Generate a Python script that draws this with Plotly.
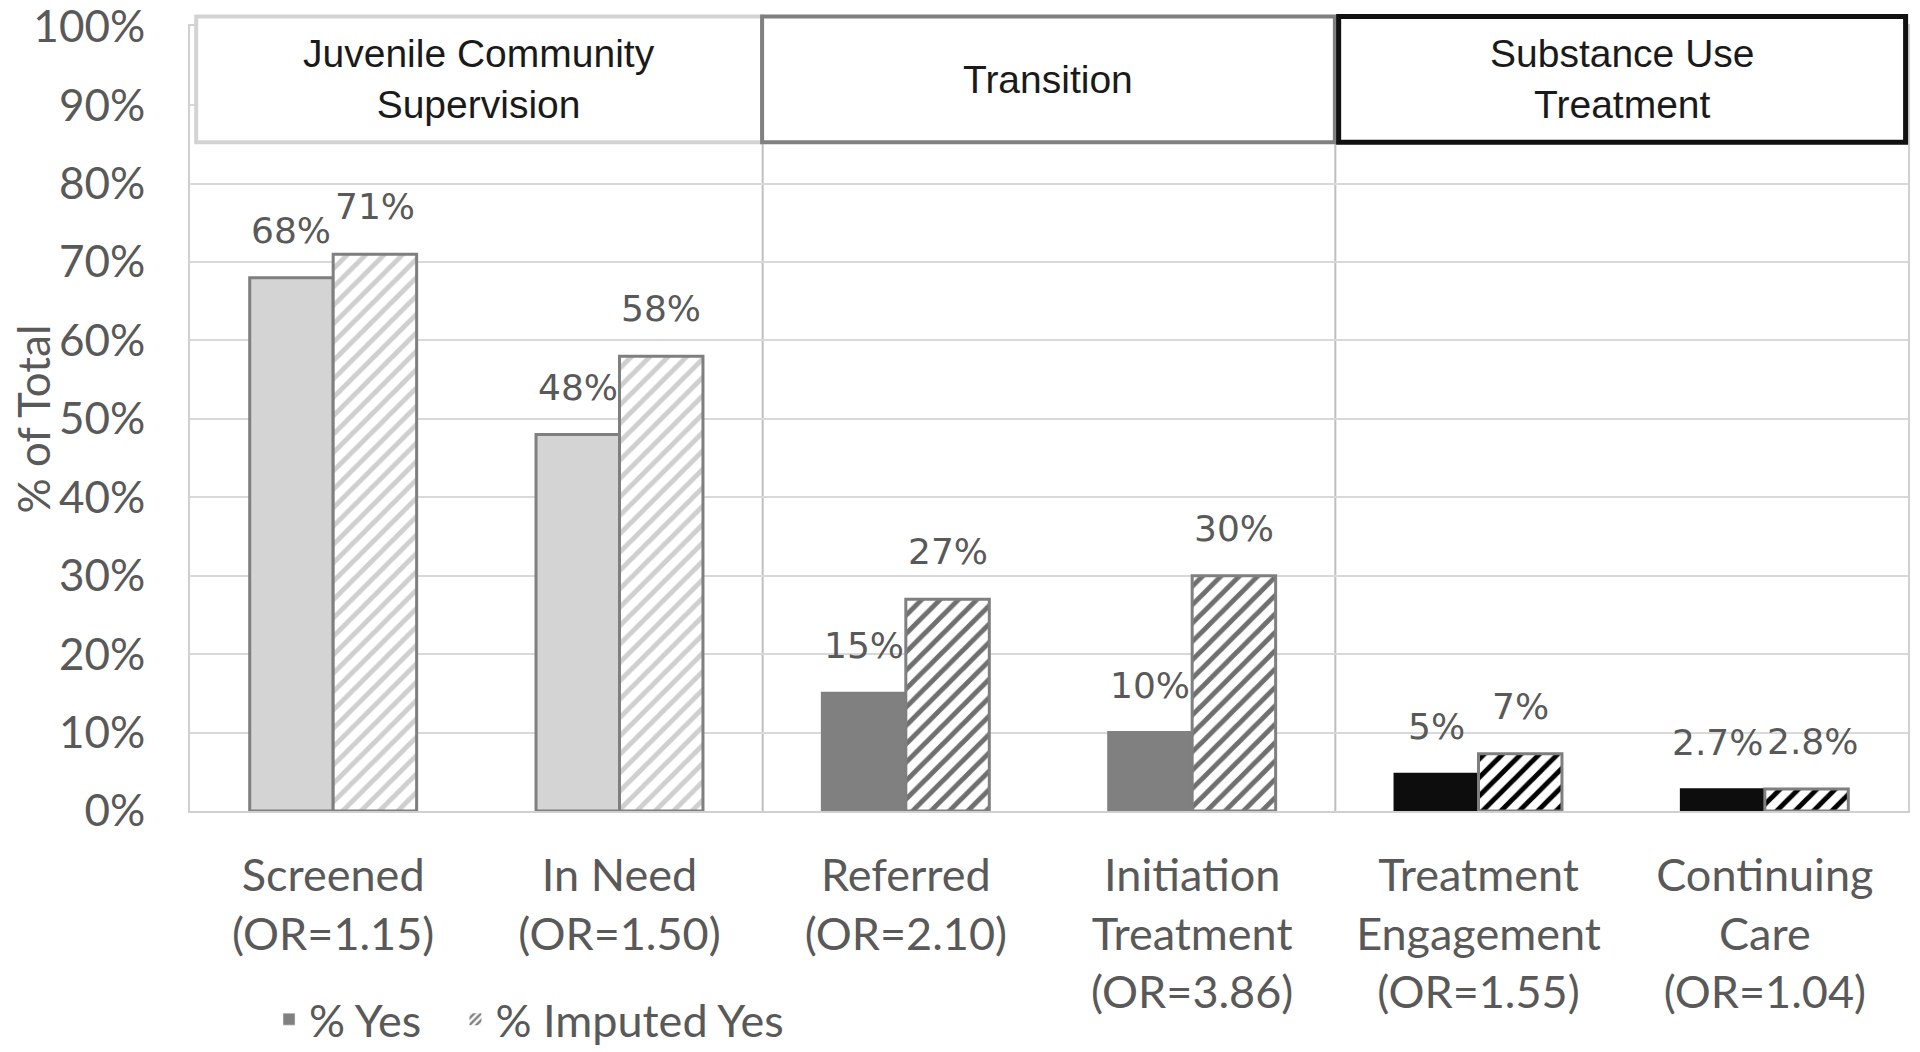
import plotly.graph_objects as go

categories = ["Screened<br>(OR=1.15)", "In Need<br>(OR=1.50)", "Referred<br>(OR=2.10)",
              "Initiation<br>Treatment<br>(OR=3.86)", "Treatment<br>Engagement<br>(OR=1.55)",
              "Continuing<br>Care<br>(OR=1.04)"]
pct_yes = [68, 48, 15, 10, 4.7, 2.7]
pct_imputed = [71, 58, 27, 30, 7.3, 2.8]
label_yes = ["68%", "48%", "15%", "10%", "5%", "2.7%"]
label_imputed = ["71%", "58%", "27%", "30%", "7%", "2.8%"]
y_ticks = [0, 10, 20, 30, 40, 50, 60, 70, 80, 90, 100]
y_tick_text = [f"{v}%" for v in y_ticks]
groups = ["Juvenile Community<br>Supervision", "Transition", "Substance Use<br>Treatment"]

yes_fill = ["#d4d4d4", "#d4d4d4", "#808080", "#808080", "#0d0d0d", "#0d0d0d"]
yes_line = ["#7f7f7f", "#7f7f7f", "#808080", "#808080", "#0d0d0d", "#0d0d0d"]
imp_fg = ["#cfcfcf", "#cfcfcf", "#6f6f6f", "#6f6f6f", "#000000", "#000000"]

LBL = "#595959"
TICKFONT = "Lato"
BARGAP = 0.417

fig = go.Figure()
fig.add_trace(go.Bar(
    x=categories, y=[v / 100 for v in pct_yes], name="% Yes", showlegend=False, offsetgroup="a",
    marker=dict(color=yes_fill, line=dict(color=yes_line, width=3)),
))
fig.add_trace(go.Bar(
    x=categories, y=[v / 100 for v in pct_imputed], name="% Imputed Yes", showlegend=False,
    offsetgroup="b",
    marker=dict(color="white", line=dict(color="#7f7f7f", width=3),
                pattern=dict(shape="/", fgcolor=imp_fg, bgcolor="white", size=13, solidity=0.38,
                             fillmode="replace")),
))
# legend-only entries (two separate legends so they can be spaced like the original)
fig.add_trace(go.Bar(x=[categories[0]], y=[None], name="% Yes", offsetgroup="a", legend="legend",
                     marker=dict(color="#808080")))
fig.add_trace(go.Bar(x=[categories[0]], y=[None], name="% Imputed Yes", offsetgroup="b",
                     legend="legend2",
                     marker=dict(color="white", line=dict(color="white", width=0),
                                 pattern=dict(shape="/", fgcolor="#000000", bgcolor="white",
                                              size=6, solidity=0.5))))

half = (1 - BARGAP) / 4  # half of a single bar width in category units
# small horizontal nudges so that neighbouring labels do not collide
nudge_yes = {5: -6}
nudge_imp = {5: 6}
annotations = []
for i in range(len(categories)):
    for off, val, txt, nd in ((-half, pct_yes[i], label_yes[i], nudge_yes),
                              (half, pct_imputed[i], label_imputed[i], nudge_imp)):
        annotations.append(dict(x=i + off, y=val / 100, xref="x", yref="y", text=txt,
                                showarrow=False, xanchor="center", yanchor="bottom", yshift=25,
                                xshift=nd.get(i, 0),
                                font=dict(family="DejaVu Sans", size=36, color=LBL)))

# group header boxes (paper coords)
box_x = [(0.0036, 0.3330), (0.3330, 0.6664), (0.6686, 0.9986)]
box_style = [("#d3d3d3", 4), ("#808080", 4), ("#111111", 5)]
shapes = []
for (x0, x1), (col, w), g in zip(box_x, box_style, groups):
    shapes.append(dict(type="rect", xref="paper", yref="paper", x0=x0, x1=x1, y0=0.852, y1=1.012,
                       fillcolor="white", line=dict(color=col, width=w), layer="above"))
    annotations.append(dict(x=(x0 + x1) / 2, y=0.932, xref="paper", yref="paper", text=g,
                            showarrow=False, xanchor="center", yanchor="middle",
                            font=dict(family="Liberation Sans", size=39, color="#1a1a1a")))

for xv in (1.5, 3.5):
    shapes.append(dict(type="line", xref="x", yref="paper", x0=xv, x1=xv, y0=0, y1=1,
                       line=dict(color="#bfbfbf", width=2), layer="below"))

annotations.append(dict(x=-0.0914, y=0.5, xref="paper", yref="paper", text="% of Total",
                        textangle=-90, showarrow=False, xanchor="center", yanchor="middle",
                        font=dict(family=TICKFONT, size=44, color=LBL)))

legend_common = dict(orientation="h", y=0.031, xref="paper", yref="container",
                     xanchor="left", yanchor="middle", itemwidth=30,
                     font=dict(family=TICKFONT, size=45, color=LBL), bgcolor="rgba(0,0,0,0)")

fig.update_layout(
    width=1920, height=1052,
    margin=dict(l=190, r=12, t=26, b=241, autoexpand=False),
    paper_bgcolor="white", plot_bgcolor="white",
    barmode="group", bargap=BARGAP, bargroupgap=0,
    showlegend=True,
    legend=dict(x=0.046, **legend_common),
    legend2=dict(x=0.1545, **legend_common),
    shapes=shapes, annotations=annotations,
)
fig.update_xaxes(type="category", range=[-0.5, 5.5], showline=True, mirror=True,
                 linecolor="#d0d0d0", linewidth=2, showgrid=False, ticks="",
                 tickfont=dict(family=TICKFONT, size=45, color=LBL), ticklabelstandoff=24)
fig.update_yaxes(range=[0, 1.001], tickvals=[v / 100 for v in y_ticks], ticktext=y_tick_text,
                 showgrid=True, gridcolor="#d9d9d9", gridwidth=2, showline=True, mirror=True,
                 linecolor="#d0d0d0", linewidth=2, zeroline=False, ticks="",
                 ticklabeloverflow="allow",
                 tickfont=dict(family=TICKFONT, size=44, color=LBL), ticklabelstandoff=34)

fig.write_html("out.html", config={"displayModeBar": False},
               post_script="document.body.style.margin='0px';")
